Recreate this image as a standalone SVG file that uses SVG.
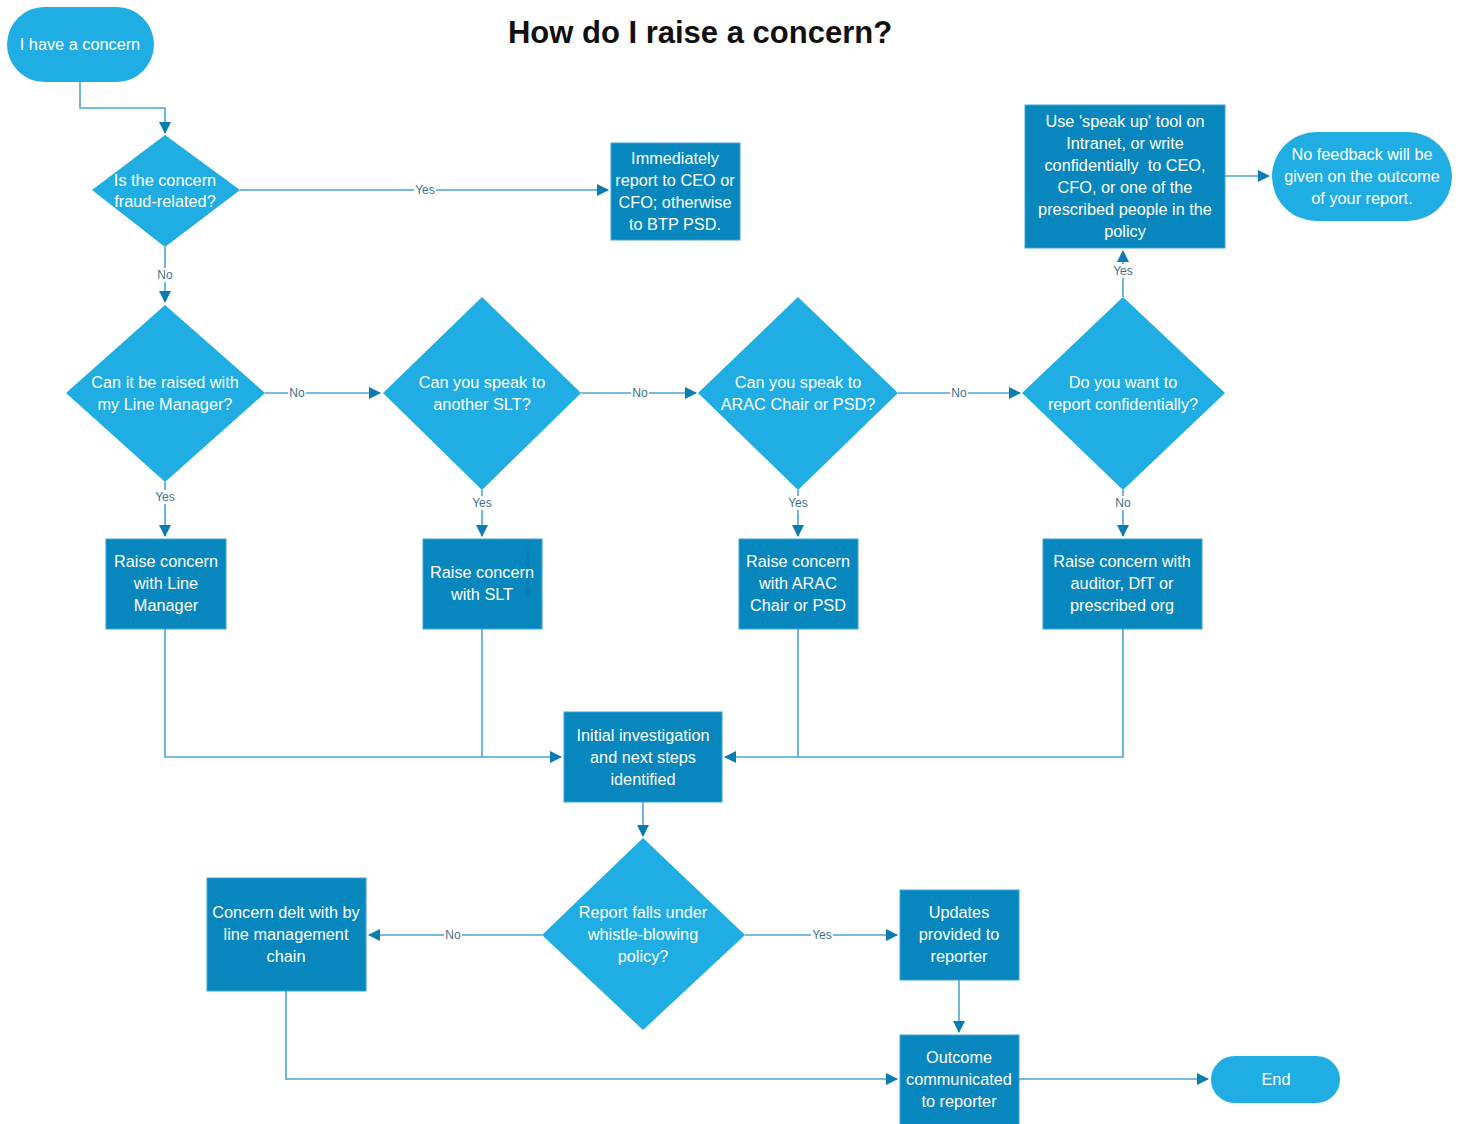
<svg xmlns="http://www.w3.org/2000/svg" width="1464" height="1124" viewBox="0 0 1464 1124">
<style>
.term{fill:#1fade3;}
.dia{fill:#1fade3;}
.box{fill:#0787be;stroke:#3aa6d9;stroke-width:1;}
.t{font-family:"Liberation Sans",Arial,sans-serif;font-size:16.3px;fill:#ffffff;text-anchor:middle;dominant-baseline:central;}
.c{fill:none;stroke:#4ca5d6;stroke-width:1.6;}
.lbl{font-family:"Liberation Sans",Arial,sans-serif;font-size:12px;fill:#3d6f8c;text-anchor:middle;dominant-baseline:central;}
.title{font-family:"Liberation Sans",Arial,sans-serif;font-size:31px;font-weight:bold;fill:#111;text-anchor:middle;}
</style>
<defs>
<marker id="ah" markerWidth="12" markerHeight="12" refX="11" refY="6" orient="auto" markerUnits="userSpaceOnUse">
<path d="M0,0 L12,6 L0,12 Z" fill="#0b7bb3"/>
</marker>
</defs>
<rect width="1464" height="1124" fill="#ffffff"/>
<text class="title" x="700" y="43">How do I raise a concern?</text>

<g id="connectors">
<path class="c" d="M80,82 V108 H165 V133" marker-end="url(#ah)"/>
<path class="c" d="M240,190 H608" marker-end="url(#ah)"/>
<path class="c" d="M165,247 V302" marker-end="url(#ah)"/>
<path class="c" d="M265,393 H380" marker-end="url(#ah)"/>
<path class="c" d="M581,393 H696" marker-end="url(#ah)"/>
<path class="c" d="M898,393 H1020" marker-end="url(#ah)"/>
<path class="c" d="M165,482 V536" marker-end="url(#ah)"/>
<path class="c" d="M482,490 V536" marker-end="url(#ah)"/>
<path class="c" d="M798,490 V536" marker-end="url(#ah)"/>
<path class="c" d="M1123,490 V536" marker-end="url(#ah)"/>
<path class="c" d="M1123,297 V251" marker-end="url(#ah)"/>
<path class="c" d="M1225,176 H1269" marker-end="url(#ah)"/>
<path class="c" d="M165,629 V757 H561" marker-end="url(#ah)"/>
<path class="c" d="M482,629 V757"/>
<path class="c" d="M1123,629 V757 H798"/>
<path class="c" d="M798,629 V757 H725" marker-end="url(#ah)"/>
<path class="c" d="M643,802 V836" marker-end="url(#ah)"/>
<path class="c" d="M542,935 H369" marker-end="url(#ah)"/>
<path class="c" d="M745,935 H897" marker-end="url(#ah)"/>
<path class="c" d="M959,980 V1032" marker-end="url(#ah)"/>
<path class="c" d="M286,991 V1079 H897" marker-end="url(#ah)"/>
<path class="c" d="M1019,1079 H1208" marker-end="url(#ah)"/>
<g id="edge-labels">
<rect x="414" y="183" width="22" height="14" fill="#fff"/><text class="lbl" x="425" y="190">Yes</text>
<rect x="156" y="268" width="18" height="14" fill="#fff"/><text class="lbl" x="165" y="275">No</text>
<rect x="288" y="386" width="18" height="14" fill="#fff"/><text class="lbl" x="297" y="393">No</text>
<rect x="631" y="386" width="18" height="14" fill="#fff"/><text class="lbl" x="640" y="393">No</text>
<rect x="950" y="386" width="18" height="14" fill="#fff"/><text class="lbl" x="959" y="393">No</text>
<rect x="154" y="490" width="22" height="14" fill="#fff"/><text class="lbl" x="165" y="497">Yes</text>
<rect x="471" y="496" width="22" height="14" fill="#fff"/><text class="lbl" x="482" y="503">Yes</text>
<rect x="787" y="496" width="22" height="14" fill="#fff"/><text class="lbl" x="798" y="503">Yes</text>
<rect x="1114" y="496" width="18" height="14" fill="#fff"/><text class="lbl" x="1123" y="503">No</text>
<rect x="1112" y="264" width="22" height="14" fill="#fff"/><text class="lbl" x="1123" y="271">Yes</text>
<rect x="444" y="928" width="18" height="14" fill="#fff"/><text class="lbl" x="453" y="935">No</text>
<rect x="811" y="928" width="22" height="14" fill="#fff"/><text class="lbl" x="822" y="935">Yes</text>
</g>
</g>

<g id="start"><rect class="term" x="7" y="7" width="147" height="75" rx="37.5"/><text class="t" x="80" y="44">I have a concern</text></g>

<g id="q-fraud"><polygon class="dia" points="165,135 240,190 165,247 92,190"/><text class="t" x="165" y="180">Is the concern</text><text class="t" x="165" y="201">fraud-related?</text></g>

<g id="fraud-report"><rect class="box" x="611" y="143" width="129" height="97"/><text class="t" x="675" y="158">Immediately</text><text class="t" x="675" y="180">report to CEO or</text><text class="t" x="675" y="202">CFO; otherwise</text><text class="t" x="675" y="224">to BTP PSD.</text></g>

<g id="q-lm"><polygon class="dia" points="165,305 265,393 165,482 66,393"/><text class="t" x="165" y="382">Can it be raised with</text><text class="t" x="165" y="404">my Line Manager?</text></g>

<g id="q-slt"><polygon class="dia" points="482,297 581,393 482,490 383,393"/><text class="t" x="482" y="382">Can you speak to</text><text class="t" x="482" y="404">another SLT?</text></g>

<g id="q-arac"><polygon class="dia" points="798,297 898,393 798,490 698,393"/><text class="t" x="798" y="382">Can you speak to</text><text class="t" x="798" y="404">ARAC Chair or PSD?</text></g>

<g id="q-conf"><polygon class="dia" points="1123,297 1225,393 1123,490 1022,393"/><text class="t" x="1123" y="382">Do you want to</text><text class="t" x="1123" y="404">report confidentially?</text></g>

<g id="speak-up"><rect class="box" x="1025" y="105" width="200" height="143"/><text class="t" x="1125" y="121">Use 'speak up' tool on</text><text class="t" x="1125" y="143">Intranet, or write</text><text class="t" x="1125" y="165" xml:space="preserve">confidentially  to CEO,</text><text class="t" x="1125" y="187">CFO, or one of the</text><text class="t" x="1125" y="209">prescribed people in the</text><text class="t" x="1125" y="231">policy</text></g>

<g id="no-feedback"><rect class="term" x="1272" y="132" width="180" height="89" rx="44.5"/><text class="t" x="1362" y="154">No feedback will be</text><text class="t" x="1362" y="176">given on the outcome</text><text class="t" x="1362" y="198">of your report.</text></g>

<g id="raise-lm"><rect class="box" x="106" y="539" width="120" height="90"/><text class="t" x="166" y="561">Raise concern</text><text class="t" x="166" y="583">with Line</text><text class="t" x="166" y="605">Manager</text></g>

<g id="raise-slt"><rect class="box" x="423" y="539" width="119" height="90"/><path d="M528,548 V592" stroke="#0b7db4" stroke-width="1.5" fill="none"/><path d="M524,588 L528,597 L532,588 Z" fill="#0b7db4"/><text class="t" x="482" y="572">Raise concern</text><text class="t" x="482" y="594">with SLT</text></g>

<g id="raise-arac"><rect class="box" x="739" y="539" width="119" height="90"/><text class="t" x="798" y="561">Raise concern</text><text class="t" x="798" y="583">with ARAC</text><text class="t" x="798" y="605">Chair or PSD</text></g>

<g id="raise-auditor"><rect class="box" x="1043" y="539" width="159" height="90"/><text class="t" x="1122" y="561">Raise concern with</text><text class="t" x="1122" y="583">auditor, DfT or</text><text class="t" x="1122" y="605">prescribed org</text></g>

<g id="initial"><rect class="box" x="564" y="712" width="158" height="90"/><text class="t" x="643" y="735">Initial investigation</text><text class="t" x="643" y="757">and next steps</text><text class="t" x="643" y="779">identified</text></g>

<g id="q-whistle"><polygon class="dia" points="643,838 745,935 643,1030 542,935"/><text class="t" x="643" y="912">Report falls under</text><text class="t" x="643" y="934">whistle-blowing</text><text class="t" x="643" y="956">policy?</text></g>

<g id="line-mgmt"><rect class="box" x="207" y="878" width="159" height="113"/><text class="t" x="286" y="912">Concern delt with by</text><text class="t" x="286" y="934">line management</text><text class="t" x="286" y="956">chain</text></g>

<g id="updates"><rect class="box" x="900" y="890" width="119" height="90"/><text class="t" x="959" y="912">Updates</text><text class="t" x="959" y="934">provided to</text><text class="t" x="959" y="956">reporter</text></g>

<g id="outcome"><rect class="box" x="900" y="1035" width="119" height="92"/><text class="t" x="959" y="1057">Outcome</text><text class="t" x="959" y="1079">communicated</text><text class="t" x="959" y="1101">to reporter</text></g>

<g id="end"><rect class="term" x="1211" y="1056" width="129" height="47" rx="23.5"/><text class="t" x="1276" y="1079">End</text></g>
</svg>
